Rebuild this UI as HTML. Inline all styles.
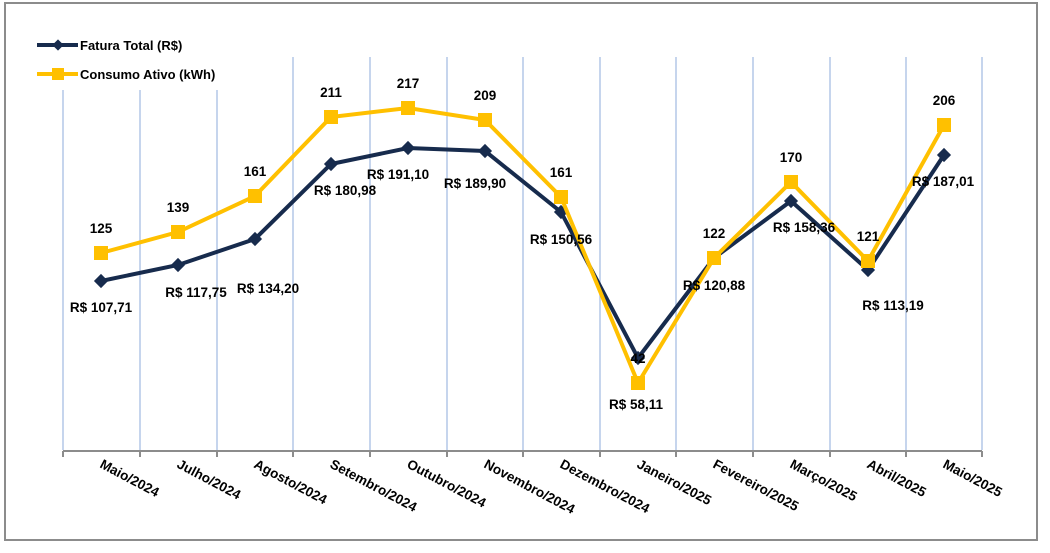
<!DOCTYPE html><html><head><style>body{margin:0;background:#fff}svg text{font-family:"Liberation Sans",sans-serif;font-weight:bold;font-size:13.5px;fill:#000}</style></head><body>
<svg width="1050" height="548" viewBox="0 0 1050 548">
<rect x="5" y="3" width="1032" height="537" fill="#fff" stroke="#8c8c8c" stroke-width="2"/>
<g stroke="#b4c7e7" stroke-width="1.5">
<line x1="63" y1="90" x2="63" y2="450"/><line x1="140" y1="90" x2="140" y2="450"/><line x1="217" y1="90" x2="217" y2="450"/><line x1="293" y1="57" x2="293" y2="450"/><line x1="370" y1="57" x2="370" y2="450"/><line x1="447" y1="57" x2="447" y2="450"/><line x1="523" y1="57" x2="523" y2="450"/><line x1="600" y1="57" x2="600" y2="450"/><line x1="676" y1="57" x2="676" y2="450"/><line x1="753" y1="57" x2="753" y2="450"/><line x1="830" y1="57" x2="830" y2="450"/><line x1="906" y1="57" x2="906" y2="450"/><line x1="982" y1="57" x2="982" y2="450"/>
</g>
<line x1="63" y1="451" x2="982" y2="451" stroke="#8c8c8c" stroke-width="2"/>
<g stroke="#8c8c8c" stroke-width="2"><line x1="63" y1="451" x2="63" y2="457"/><line x1="140" y1="451" x2="140" y2="457"/><line x1="217" y1="451" x2="217" y2="457"/><line x1="293" y1="451" x2="293" y2="457"/><line x1="370" y1="451" x2="370" y2="457"/><line x1="447" y1="451" x2="447" y2="457"/><line x1="523" y1="451" x2="523" y2="457"/><line x1="600" y1="451" x2="600" y2="457"/><line x1="676" y1="451" x2="676" y2="457"/><line x1="753" y1="451" x2="753" y2="457"/><line x1="830" y1="451" x2="830" y2="457"/><line x1="906" y1="451" x2="906" y2="457"/><line x1="982" y1="451" x2="982" y2="457"/></g>
<polyline fill="none" stroke="#172b4d" stroke-width="4" points="101,281 178,265 255,239 331,164 408,148 485,151 561,212 638,358 714,258 791,201 868,270 944,155"/>
<g fill="#172b4d">
<rect x="96" y="276" width="10" height="10" transform="rotate(45 101 281)"/><rect x="173" y="260" width="10" height="10" transform="rotate(45 178 265)"/><rect x="250" y="234" width="10" height="10" transform="rotate(45 255 239)"/><rect x="326" y="159" width="10" height="10" transform="rotate(45 331 164)"/><rect x="403" y="143" width="10" height="10" transform="rotate(45 408 148)"/><rect x="480" y="146" width="10" height="10" transform="rotate(45 485 151)"/><rect x="556" y="207" width="10" height="10" transform="rotate(45 561 212)"/><rect x="633" y="353" width="10" height="10" transform="rotate(45 638 358)"/><rect x="709" y="253" width="10" height="10" transform="rotate(45 714 258)"/><rect x="786" y="196" width="10" height="10" transform="rotate(45 791 201)"/><rect x="863" y="265" width="10" height="10" transform="rotate(45 868 270)"/><rect x="939" y="150" width="10" height="10" transform="rotate(45 944 155)"/>
</g>
<polyline fill="none" stroke="#ffc000" stroke-width="4" points="101,253 178,232 255,196 331,117 408,108 485,120 561,197 638,383 714,258 791,182 868,261 944,125"/>
<g fill="#ffc000">
<rect x="94" y="246" width="14" height="14"/><rect x="171" y="225" width="14" height="14"/><rect x="248" y="189" width="14" height="14"/><rect x="324" y="110" width="14" height="14"/><rect x="401" y="101" width="14" height="14"/><rect x="478" y="113" width="14" height="14"/><rect x="554" y="190" width="14" height="14"/><rect x="631" y="376" width="14" height="14"/><rect x="707" y="251" width="14" height="14"/><rect x="784" y="175" width="14" height="14"/><rect x="861" y="254" width="14" height="14"/><rect x="937" y="118" width="14" height="14"/>
</g>
<g text-anchor="middle">
<text x="101" y="233">125</text><text x="178" y="212">139</text><text x="255" y="176">161</text><text x="331" y="97">211</text><text x="408" y="88">217</text><text x="485" y="100">209</text><text x="561" y="177">161</text><text x="638" y="363">42</text><text x="714" y="238">122</text><text x="791" y="162">170</text><text x="868" y="241">121</text><text x="944" y="105">206</text>
<text x="101" y="312">R$ 107,71</text><text x="196" y="297">R$ 117,75</text><text x="268" y="293">R$ 134,20</text><text x="345" y="195">R$ 180,98</text><text x="398" y="179">R$ 191,10</text><text x="475" y="188">R$ 189,90</text><text x="561" y="244">R$ 150,56</text><text x="636" y="409">R$ 58,11</text><text x="714" y="290">R$ 120,88</text><text x="804" y="232">R$ 158,36</text><text x="893" y="310">R$ 113,19</text><text x="943" y="186">R$ 187,01</text>
</g>
<g>
<text transform="translate(99,467) rotate(28)">Maio/2024</text>
<text transform="translate(176,467) rotate(28)">Julho/2024</text>
<text transform="translate(253,467) rotate(28)">Agosto/2024</text>
<text transform="translate(329,467) rotate(28)">Setembro/2024</text>
<text transform="translate(406,467) rotate(28)">Outubro/2024</text>
<text transform="translate(483,467) rotate(28)">Novembro/2024</text>
<text transform="translate(559,467) rotate(28)">Dezembro/2024</text>
<text transform="translate(636,467) rotate(28)">Janeiro/2025</text>
<text transform="translate(712,467) rotate(28)">Fevereiro/2025</text>
<text transform="translate(789,467) rotate(28)">Março/2025</text>
<text transform="translate(866,467) rotate(28)">Abril/2025</text>
<text transform="translate(942,467) rotate(28)">Maio/2025</text>
</g>
<line x1="37" y1="45" x2="78" y2="45" stroke="#172b4d" stroke-width="4"/>
<rect x="54" y="41" width="8" height="8" fill="#172b4d" transform="rotate(45 58 45)"/>
<text x="80" y="50" style="font-size:13px">Fatura Total (R$)</text>
<line x1="37" y1="74" x2="78" y2="74" stroke="#ffc000" stroke-width="4"/>
<rect x="52" y="68" width="12" height="12" fill="#ffc000"/>
<text x="80" y="79" style="font-size:13px">Consumo Ativo (kWh)</text>
</svg></body></html>
